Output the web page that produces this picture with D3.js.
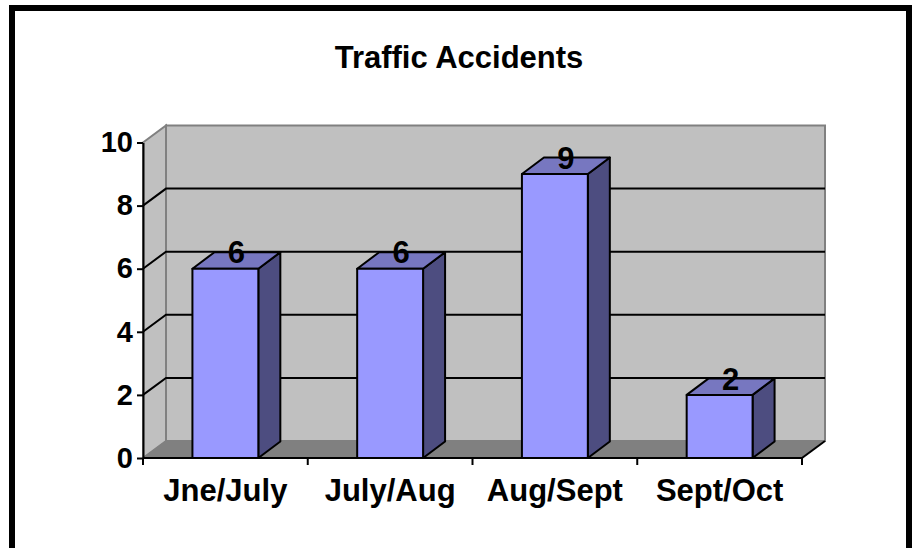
<!DOCTYPE html>
<html>
<head>
<meta charset="utf-8">
<script src="https://cdn.jsdelivr.net/npm/d3@7"></script>
<style>
  body { margin: 0; background: #fff; }
  svg { display: block; font-family: "Liberation Sans", Arial, sans-serif; }
</style>
</head>
<body>
<div></div>
<script>
const categories = ["Jne/July", "July/Aug", "Aug/Sept", "Sept/Oct"];
const values = [6, 6, 9, 2];
const yTicks = [0, 2, 4, 6, 8, 10];

const w = 918;
const h = 548;
// 3d depth offset of the walls and bars
const dx = 23;
const dy = -17;
const bdx = 22;
const bdy = -16.5;

const svg = d3.select("div").append("svg").attr("width", w).attr("height", h);

// outer frame
svg
  .append("rect")
  .attr("x", 12)
  .attr("y", 8)
  .attr("width", 897)
  .attr("height", 600)
  .attr("fill", "#fff")
  .attr("stroke", "#000")
  .attr("stroke-width", 6);

svg
  .append("text")
  .attr("x", 459)
  .attr("y", 68)
  .attr("text-anchor", "middle")
  .attr("font-size", 31)
  .attr("font-weight", "bold")
  .text("Traffic Accidents");

const x = d3.scaleBand().domain(categories).range([143, 802]).padding(0);
const y = d3.scaleLinear().domain([0, 10]).range([458, 142.5]);

const x0 = x.range()[0];
const x1 = x.range()[1];
const pts = (a) => a.map((p) => p.join(",")).join(" ");

// back wall
svg
  .append("polygon")
  .attr("points", pts([
    [x0 + dx, y(10) + dy],
    [x1 + dx, y(10) + dy],
    [x1 + dx, y(0) + dy],
    [x0 + dx, y(0) + dy],
  ]))
  .attr("fill", "#c0c0c0")
  .attr("stroke", "#808080")
  .attr("stroke-width", 2);

// side wall
svg
  .append("polygon")
  .attr("points", pts([
    [x0, y(10)],
    [x0 + dx, y(10) + dy],
    [x0 + dx, y(0) + dy],
    [x0, y(0)],
  ]))
  .attr("fill", "#c0c0c0")
  .attr("stroke", "#808080")
  .attr("stroke-width", 2);

// floor
svg
  .append("polygon")
  .attr("points", pts([
    [x0, y(0)],
    [x0 + dx, y(0) + dy],
    [x1 + dx, y(0) + dy],
    [x1, y(0)],
  ]))
  .attr("fill", "#808080")
  .attr("stroke", "#808080")
  .attr("stroke-width", 1);

// gridlines
const grid = svg.append("g").attr("class", "grid");
grid
  .selectAll("polyline")
  .data(yTicks.filter((t) => t > 0 && t < 10))
  .enter()
  .append("polyline")
  .attr("points", (d) => pts([[x0, y(d)], [x0 + dx, y(d) + dy], [x1 + dx, y(d) + dy]]))
  .attr("fill", "none")
  .attr("stroke", "#000")
  .attr("stroke-width", 2);

// bars
const bw = x.bandwidth() * 0.4;
const bars = svg
  .append("g")
  .selectAll("g")
  .data(values)
  .enter()
  .append("g")
  .attr("stroke", "#000")
  .attr("stroke-width", 2)
  .attr("stroke-linejoin", "round");

const bl = (d, i) => x(categories[i]) + (x.bandwidth() - bw) / 2;

bars
  .append("polygon")
  .attr("fill", "#4d4d80")
  .attr("points", (d, i) => pts([
    [bl(d, i) + bw, y(d)],
    [bl(d, i) + bw + bdx, y(d) + bdy],
    [bl(d, i) + bw + bdx, y(0) + bdy],
    [bl(d, i) + bw, y(0)],
  ]));
bars
  .append("polygon")
  .attr("fill", "#7777c0")
  .attr("points", (d, i) => pts([
    [bl(d, i), y(d)],
    [bl(d, i) + bdx, y(d) + bdy],
    [bl(d, i) + bw + bdx, y(d) + bdy],
    [bl(d, i) + bw, y(d)],
  ]));
bars
  .append("rect")
  .attr("fill", "#9999ff")
  .attr("x", (d, i) => bl(d, i))
  .attr("y", (d) => y(d))
  .attr("width", bw)
  .attr("height", (d) => y(0) - y(d));

// value labels
svg
  .append("g")
  .selectAll("text")
  .data(values)
  .enter()
  .append("text")
  .attr("x", (d, i) => bl(d, i) + bw / 2 + bdx / 2)
  .attr("y", (d) => y(d) + bdy / 2 + 3)
  .attr("text-anchor", "middle")
  .attr("font-size", 31)
  .attr("font-weight", "bold")
  .text((d) => d);

// y axis
const yAxis = svg
  .append("g")
  .attr("transform", "translate(" + x0 + ",0)")
  .call(d3.axisLeft(y).tickValues(yTicks).tickSize(6).tickPadding(4).tickSizeOuter(0));
yAxis.select(".domain").attr("stroke", "#000").attr("stroke-width", 2);
yAxis.selectAll(".tick line").attr("stroke", "#000").attr("stroke-width", 2);
yAxis
  .selectAll(".tick text")
  .attr("font-size", 29)
  .attr("font-weight", "bold")
  .attr("font-family", "Liberation Sans, Arial, sans-serif")
  .attr("fill", "#000");

// right edge of the floor
svg
  .append("line")
  .attr("x1", x1)
  .attr("y1", y(0))
  .attr("x2", x1 + dx)
  .attr("y2", y(0) + dy)
  .attr("stroke", "#000")
  .attr("stroke-width", 2);

// x axis
const xa = svg.append("g");
xa.append("line")
  .attr("x1", x0)
  .attr("x2", x1)
  .attr("y1", y(0))
  .attr("y2", y(0))
  .attr("stroke", "#000")
  .attr("stroke-width", 2);
const bounds = categories.map((c) => x(c)).concat([x1]);
xa.selectAll(".tk")
  .data(bounds)
  .enter()
  .append("line")
  .attr("x1", (d) => d)
  .attr("x2", (d) => d)
  .attr("y1", y(0))
  .attr("y2", y(0) + 7)
  .attr("stroke", "#000")
  .attr("stroke-width", 2);
xa.selectAll("text")
  .data(categories)
  .enter()
  .append("text")
  .attr("x", (d) => x(d) + x.bandwidth() / 2)
  .attr("y", 501)
  .attr("text-anchor", "middle")
  .attr("font-size", 31)
  .attr("font-weight", "bold")
  .text((d) => d);
</script>
</body>
</html>
